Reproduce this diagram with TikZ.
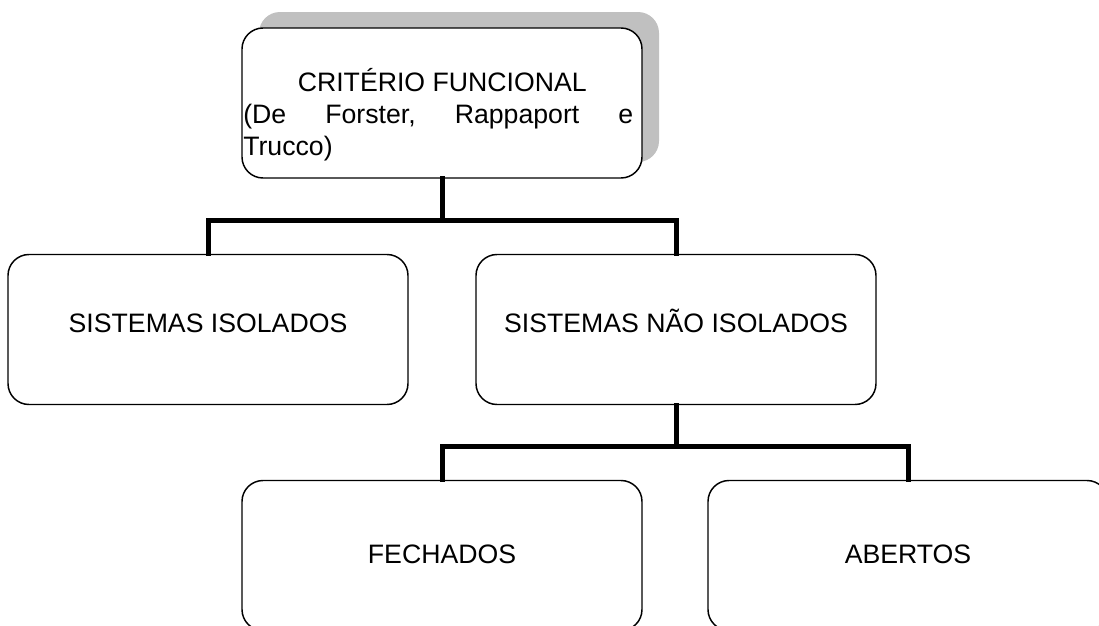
\documentclass[tikz,border=0pt]{standalone}
\usepackage{fontspec}
\setmainfont{Liberation Sans}
\definecolor{shadowgray}{RGB}{192,192,192}
\tikzset{
  boxbase/.style={rectangle, rounded corners=15.75pt, minimum width=300pt,
    minimum height=112.5pt, inner sep=0pt, line width=1.1pt, fill=white},
  boxup/.style={boxbase, draw=black, font=\fontsize{20pt}{24pt}\selectfont,
    text height=14.5pt, text depth=9.9pt},
  boxlow/.style={boxbase, draw=black, font=\fontsize{20pt}{24pt}\selectfont,
    text height=14.5pt, text depth=3.2pt},
  shadowbox/.style={boxbase, fill=shadowgray, draw=none},
  conn/.style={line width=3.75pt, line join=miter, line cap=rect}
}
\begin{document}
\begin{tikzpicture}[x=0.75pt, y=-0.75pt]
\useasboundingbox (0,0) rectangle (1099,625);
\clip (0,0) rectangle (1099,625);
% shadow and top box
\node[shadowbox] (shadow) at (459,87) {};
\node[boxbase, draw=black] (top) at (442,103) {};
\node[anchor=base west, inner sep=0pt, font=\fontsize{20pt}{24pt}\selectfont] (toptext) at (243,91)
  {\parbox[t]{292.5pt}{\fontsize{20pt}{24pt}\selectfont
   \makebox[292.5pt][c]{\hspace{6pt}CRITÉRIO FUNCIONAL}\\
   (De\hfill Forster,\hfill Rappaport\hfill e\\
   Trucco)}};
% second row
\node[boxup] (iso) at (208,329.5) {SISTEMAS ISOLADOS};
\node[boxup] (niso) at (676,329.5) {SISTEMAS NÃO ISOLADOS};
% third row
\node[boxlow] (fech) at (442,555.5) {FECHADOS};
\node[boxlow] (abert) at (908,555.5) {ABERTOS};
% connectors
\coordinate (j1) at (442,220.5);
\coordinate (j2) at (676,446.5);
\draw[conn] (top.south) -- (j1);
\draw[conn] (iso.north) |- (j1) -| (niso.north);
\draw[conn] (niso.south) -- (j2);
\draw[conn] (fech.north) |- (j2) -| (abert.north);
\end{tikzpicture}
\end{document}
